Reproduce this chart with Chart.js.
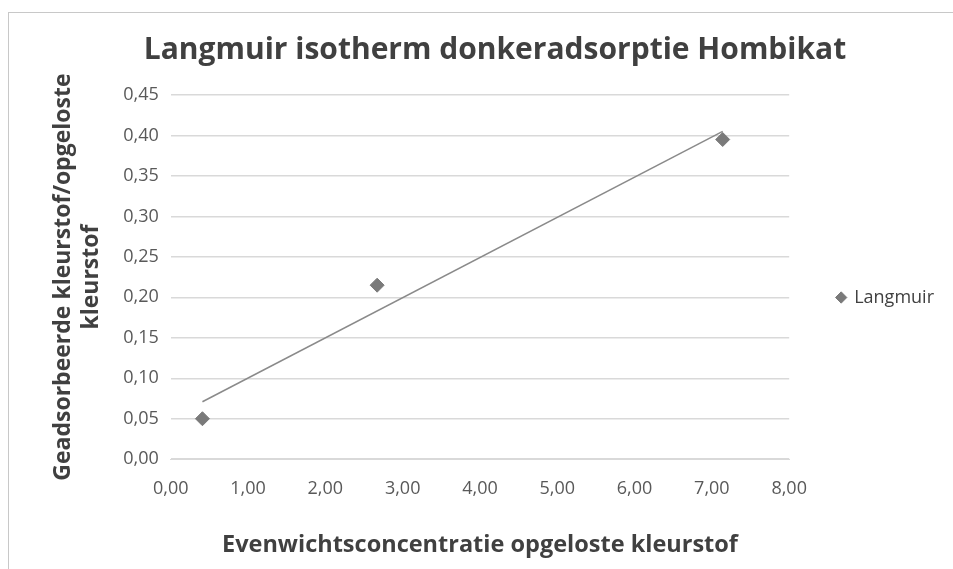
<!DOCTYPE html>
<html>
<head>
<meta charset="utf-8">
<script src="https://cdn.jsdelivr.net/npm/chart.js@4.4.0/dist/chart.umd.min.js"></script>
<style>
  html, body { margin: 0; padding: 0; background: #fff; }
  #frame { position: absolute; left: 8px; top: 12px; width: 945px; height: 557px; border-left: 1px solid #c8c8c8; border-top: 1px solid #c8c8c8; box-sizing: border-box; }
  #wrap { position: absolute; left: 0; top: 0; width: 953px; height: 569px; }
</style>
</head>
<body>
<div id="frame"></div>
<div id="wrap"><canvas id="chart" width="953" height="569"></canvas></div>
<script>
// meetpunten
var concentratie = [0.41, 2.67, 7.14];
var adsorptie = [0.05, 0.215, 0.395];
// trendlijn begin- en eindpunt
var trendX = [0.41, 7.14];
var trendY = [0.071, 0.405];

var xTicks = [0, 1, 2, 3, 4, 5, 6, 7, 8];
var yTicks = [0, 0.05, 0.10, 0.15, 0.20, 0.25, 0.30, 0.35, 0.40, 0.45];

var punten = concentratie.map(function (x, i) { return { x: x, y: adsorptie[i] }; });
var trend = trendX.map(function (x, i) { return { x: x, y: trendY[i] }; });

function komma(v) {
    return Number(v).toFixed(2).replace(".", ",");
}

var ctx = document.getElementById("chart");
var myChart = new Chart(ctx, {
    type: "scatter",
    data: {
        datasets: [
            {
                label: "Langmuir",
                data: punten,
                pointStyle: "rectRot",
                pointRadius: 7,
                pointHoverRadius: 7,
                backgroundColor: "#7a7a7a",
                borderColor: "#7a7a7a",
                borderWidth: 1,
            },
            {
                label: "trend",
                type: "line",
                data: trend,
                borderColor: "#8a8a8a",
                borderWidth: 1.5,
                pointRadius: 0,
                fill: false,
            },
        ],
    },
    options: {
        responsive: false,
        animation: false,
        layout: { padding: { left: 46, right: 9, top: 32, bottom: 6 } },
        plugins: {
            title: {
                display: true,
                text: "Langmuir isotherm donkeradsorptie Hombikat",
                color: "#404040",
                font: { family: "Open Sans", size: 30, weight: "bold" },
                padding: { top: 0, bottom: 27 },
            },
            legend: {
                position: "right",
                align: "center",
                labels: {
                    usePointStyle: true,
                    color: "#404040",
                    font: { family: "Open Sans", size: 18 },
                    boxWidth: 8,
                    boxHeight: 8,
                    padding: 6,
                    filter: function (item) { return item.text === "Langmuir"; },
                },
            },
            tooltip: { enabled: false },
        },
        scales: {
            x: {
                type: "linear",
                min: 0,
                max: 8,
                afterBuildTicks: function (axis) { axis.ticks = xTicks.map(function (v) { return { value: v }; }); },
                ticks: {
                    callback: komma,
                    color: "#595959",
                    font: { family: "Open Sans", size: 18 },
                    padding: 14,
                },
                grid: { display: false, drawTicks: true, tickLength: 5, color: "#d9d9d9" },
                border: { display: true, color: "#d9d9d9" },
                title: {
                    display: true,
                    text: "Evenwichtsconcentratie opgeloste kleurstof",
                    color: "#404040",
                    font: { family: "Open Sans", size: 23.5, weight: "bold" },
                    padding: { top: 17, bottom: 4 },
                },
            },
            y: {
                type: "linear",
                min: 0,
                max: 0.45,
                afterBuildTicks: function (axis) { axis.ticks = yTicks.map(function (v) { return { value: v }; }); },
                ticks: {
                    callback: komma,
                    color: "#595959",
                    font: { family: "Open Sans", size: 18 },
                    padding: 12,
                },
                grid: { color: "#d9d9d9", lineWidth: 1.5, drawTicks: false },
                border: { display: false },
                title: {
                    display: true,
                    text: ["Geadsorbeerde kleurstof/opgeloste", "kleurstof"],
                    color: "#404040",
                    font: { family: "Open Sans", size: 23, weight: "bold" },
                    padding: { top: 4, bottom: 6 },
                },
            },
            // lege as rechts: ruimte tussen grafiek en legenda
            ruimte: {
                type: "linear",
                position: "right",
                display: true,
                ticks: { display: false },
                grid: { display: false },
                border: { display: false },
                afterFit: function (scale) { scale.width = 42; },
            },
        },
    },
});
</script>
</body>
</html>
